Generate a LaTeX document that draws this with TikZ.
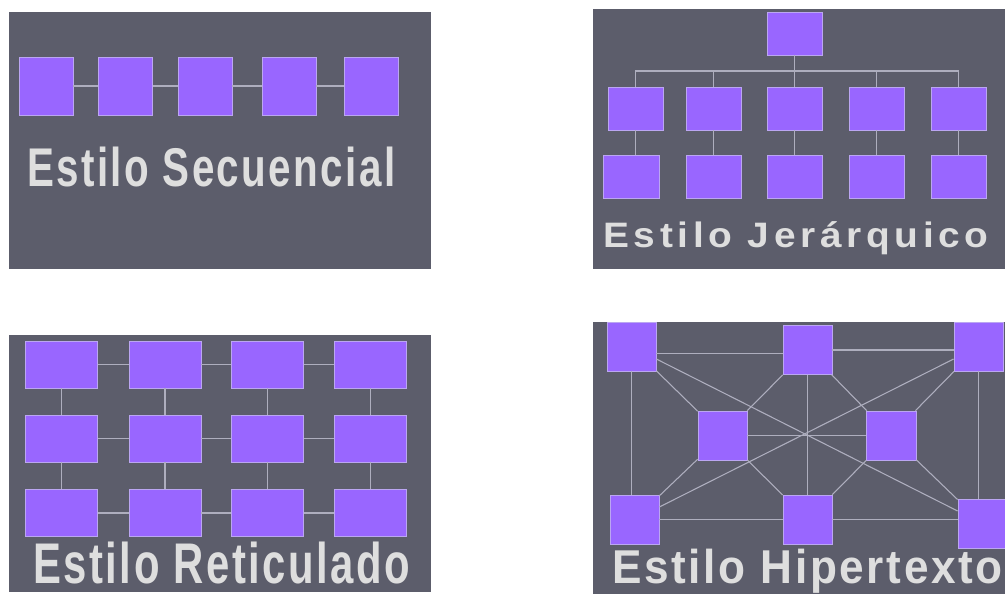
\documentclass[tikz,border=0pt]{standalone}
\usepackage{fontspec}
\newfontfamily\titlefont{Liberation Sans}[BoldFont={Liberation Sans Bold}]
\newfontfamily\titlefontspaced{Liberation Sans}[BoldFont={Liberation Sans Bold},LetterSpace=12]
\newfontfamily\titlefontloose{Liberation Sans}[BoldFont={Liberation Sans Bold},LetterSpace=6]
\definecolor{panelbg}{HTML}{5C5D6B}
\definecolor{boxfill}{HTML}{9966FF}
\definecolor{boxline}{HTML}{BBA6F2}
\definecolor{linkcol}{HTML}{AEAEBE}
\definecolor{titlecol}{HTML}{DEDEDE}
\tikzset{
  panel/.style={fill=panelbg, draw=none},
  box/.style={draw=boxline, line width=0.6pt, fill=boxfill, inner sep=0pt, rectangle},
  bx/.style 2 args={box, minimum width=#1*0.75pt, minimum height=#2*0.75pt},
  link/.style={draw=linkcol, line width=0.8pt},
  title/.style={text=titlecol, inner sep=0pt, anchor=base west}
}
\begin{document}
\begin{tikzpicture}[x=0.75pt,y=-0.75pt]
\useasboundingbox (0,0) rectangle (1005,594);
\clip (0,0) rectangle (1005,594);
\fill[white] (0,0) rectangle (1005,594);
% panels
\fill[panel] (9,12) rectangle (431,269);
\fill[panel] (593,9) rectangle (1005,269);
\fill[panel] (9,335) rectangle (431,592);
\fill[panel] (593,322) rectangle (1005,594);

% ---------- Panel 1: secuencial ----------
\node[bx={54}{58}] (s1) at (46,86) {};
\node[bx={54}{58}] (s2) at (125.5,86) {};
\node[bx={54}{58}] (s3) at (205,86) {};
\node[bx={54}{58}] (s4) at (289,86) {};
\node[bx={54}{58}] (s5) at (371.5,86) {};
\draw[link] (s1) -- (s2);
\draw[link] (s2) -- (s3);
\draw[link] (s3) -- (s4);
\draw[link] (s4) -- (s5);
\node[title, xscale=0.74, font=\titlefontloose\bfseries\fontsize{40.9}{44}\selectfont] (t1) at (27,186) {Estilo Secuencial};

% ---------- Panel 2: jerarquico ----------
\node[bx={55}{43}] (top) at (794.5,33.5) {};
\node[bx={55}{43}] (ha) at (635.5,108.5) {};
\node[bx={55}{43}] (hb) at (713.5,108.5) {};
\node[bx={55}{43}] (hc) at (794.5,108.5) {};
\node[bx={55}{43}] (hd) at (876.5,108.5) {};
\node[bx={55}{43}] (he) at (958.5,108.5) {};
\node[bx={56}{43}] (ga) at (631,176.5) {};
\node[bx={55}{43}] (gb) at (713.5,176.5) {};
\node[bx={55}{43}] (gc) at (794.5,176.5) {};
\node[bx={55}{43}] (gd) at (876.5,176.5) {};
\node[bx={55}{43}] (ge) at (958.5,176.5) {};
\coordinate (bar) at (0,71);
\draw[link] (top.south) -- (top.south |- bar);
\draw[link] (ha.north) -- (ha.north |- bar) -- (he.north |- bar) -- (he.north);
\draw[link] (hb.north) -- (hb.north |- bar);
\draw[link] (hc.north) -- (hc.north |- bar);
\draw[link] (hd.north) -- (hd.north |- bar);
\draw[link] (ha.south) -- (ha.south |- ga.north);
\draw[link] (hb) -- (gb);
\draw[link] (hc) -- (gc);
\draw[link] (hd) -- (gd);
\draw[link] (he) -- (ge);
\node[title, xscale=1.1, font=\titlefontspaced\bfseries\fontsize{26.5}{30}\selectfont] (t2) at (603,247) {Estilo Jerárquico};

% ---------- Panel 3: reticulado ----------
\foreach \r/\y in {1/364.5, 2/438.5, 3/513}{
  \foreach \c/\x in {1/61.5, 2/165, 3/267.5, 4/370.5}{
    \node[bx={72}{47}] (g\r\c) at (\x,\y) {};
  }
}
\foreach \r in {1,2,3}{
  \draw[link] (g\r1) -- (g\r2);
  \draw[link] (g\r2) -- (g\r3);
  \draw[link] (g\r3) -- (g\r4);
}
\foreach \c in {1,2,3,4}{
  \draw[link] (g1\c) -- (g2\c);
  \draw[link] (g2\c) -- (g3\c);
}
\node[title, xscale=0.73, font=\titlefontloose\bfseries\fontsize{43}{46}\selectfont] (t3) at (33,583) {Estilo Reticulado};

% ---------- Panel 4: hipertexto ----------
\node[bx={49}{49}] (TL) at (631.5,346.5) {};
\node[bx={49}{49}] (TM) at (807.5,350) {};
\node[bx={49}{49}] (TR) at (978.5,346.5) {};
\node[bx={49}{49}] (ML) at (722.5,435.5) {};
\node[bx={50}{49}] (MR) at (891,435.5) {};
\node[bx={49}{49}] (BL) at (634.5,519.5) {};
\node[bx={49}{49}] (BM) at (807.5,519.5) {};
\node[bx={49}{49}] (BR) at (982.5,523.5) {};
\draw[link] ([yshift=-5pt]TL.east) -- ([yshift=-5pt]TL.east -| TM.west);
\draw[link] (TM.east) -- (TM.east -| TR.west);
\draw[link] (TL.south) -- (TL.south |- BL.north);
\draw[link] (TR.south) -- (TR.south |- BR.north);
\draw[link] (BL.east) -- (BL.east -| BM.west);
\draw[link] (BM.east) -- (BM.east -| BR.west);
\draw[link] (TM) -- (BM);
\draw[link] (ML) -- (MR);
\draw[link] (TL) -- (BR);
\draw[link] (TR) -- (BL);
\draw[link] (TL) -- (ML);
\draw[link] (TM) -- (ML);
\draw[link] (TM) -- (MR);
\draw[link] (TR) -- (MR);
\draw[link] (ML) -- (BL);
\draw[link] (ML) -- (BM);
\draw[link] (MR) -- (BM);
\draw[link] (MR) -- (BR);
\node[title, xscale=0.93, font=\titlefontloose\bfseries\fontsize{35.6}{40}\selectfont] (t4) at (612,583) {Estilo Hipertexto};
\end{tikzpicture}
\end{document}
